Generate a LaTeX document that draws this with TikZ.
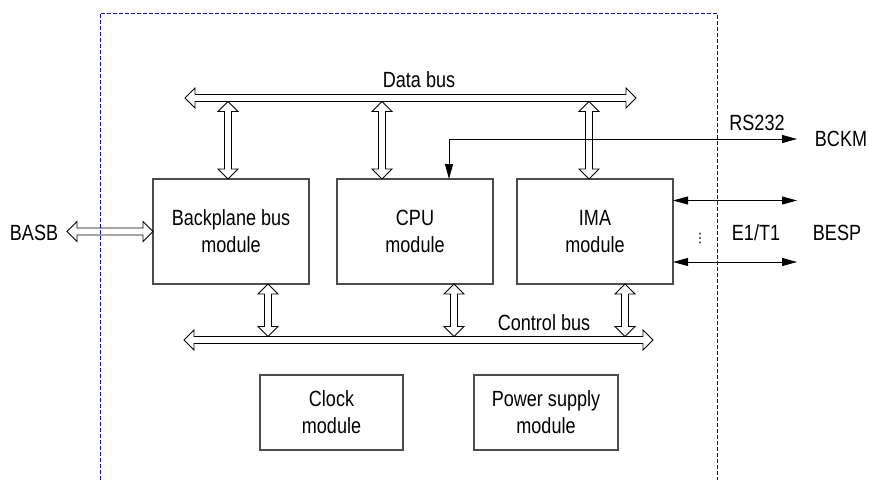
\documentclass[tikz,border=0pt]{standalone}
\usepackage{fontspec}
\setmainfont{Liberation Sans}[FakeStretch=0.82]
\newfontfamily\dotsfont{DejaVu Sans}
\usepackage{tikz}
\usetikzlibrary{positioning, arrows.meta, calc}

\begin{document}
\begin{tikzpicture}[
    x=1pt, y=-1pt,
    font=\fontsize{22}{27}\selectfont,
    module/.style={
      draw=black!70, line width=1.1pt, align=center,
      minimum width=156pt, minimum height=105pt, inner sep=0pt, outer sep=0pt
    },
    bus/.style={
      draw=black, fill=white, line width=0.9pt, line join=miter,
      to path={let \p1=(\tikztostart), \p2=(\tikztotarget),
        \n1={veclen(\x2-\x1,\y2-\y1)}, \n2={atan2(\y2-\y1,\x2-\x1)} in
        {[shift={(\p1)}, rotate=\n2]
        (0pt,0pt) -- (10pt,10pt) -- (10pt,3.5pt) -- ({\n1*1pt-10pt},3.5pt)
        -- ({\n1*1pt-10pt},10pt) -- ({\n1*1pt},0pt) -- ({\n1*1pt-10pt},-10pt)
        -- ({\n1*1pt-10pt},-3.5pt) -- (10pt,-3.5pt) -- (10pt,-10pt) -- cycle}}
    },
    sig/.style={
      draw=black, line width=0.9pt,
      {Triangle[length=15pt,width=8pt]}-{Triangle[length=15pt,width=8pt]}
    },
    lbl/.style={anchor=base, inner sep=0pt},
    frame/.style={draw=blue, line width=0.9pt, dash pattern=on 4pt off 2pt},
  ]
    \useasboundingbox (0,0) rectangle (869,480);

    % modules
    \node[module] (bp) at (231,231.5) {Backplane bus\\module};
    \node[module, right=28pt of bp] (cpu) {CPU\\module};
    \node[module, right=24pt of cpu] (ima) {IMA\\module};
    \node[module, minimum width=143pt, minimum height=75pt] (clk) at (331.5,412.5) {Clock\\module};
    \node[module, minimum width=144pt, minimum height=75pt] (pwr) at (546,412.5) {Power supply\\module};

    % labels
    \node[lbl] (dbus) at (419,87) {Data bus};
    \node[lbl] (cbus) at (544,330) {Control bus};
    \node[lbl] (rs) at (757,130) {RS232};
    \node[lbl] (bckm) at (841,146) {BCKM};
    \node[lbl] (e1) at (756,240) {E1/T1};
    \node[lbl] (besp) at (837,240) {BESP};
    \node[lbl] (basb) at (34,240) {BASB};
    \node[font=\dotsfont\fontsize{13}{13}\selectfont, inner sep=0pt] (dots) at (700,238) {⋮};

    % bus ends and taps
    \coordinate (dbl) at (185,98);
    \coordinate (dbr) at (636,98);
    \coordinate (cbl) at (184,340);
    \coordinate (cbr) at (653,340);
    \coordinate (d1) at (228,101.5);
    \coordinate (d2) at (382,101.5);
    \coordinate (d3) at (589,101.5);
    \coordinate (c1) at (268,336.5);
    \coordinate (c2) at (454,336.5);
    \coordinate (c3) at (625,336.5);
    \coordinate (basbin) at (67,231.5);
    \coordinate (bckmin) at (797,139);
    \coordinate (e1a) at (797,200.5);
    \coordinate (e1b) at (797,262);

    \draw[bus] (dbl) to (dbr);
    \draw[bus] (cbl) to (cbr);
    \draw[bus] (d1) to (d1 |- bp.north);
    \draw[bus] (d2) to (d2 |- cpu.north);
    \draw[bus] (d3) to (d3 |- ima.north);
    \draw[bus] (c1 |- bp.south) to (c1);
    \draw[bus] (c2 |- cpu.south) to (c2);
    \draw[bus] (c3 |- ima.south) to (c3);
    \draw[bus] (basbin) to (bp.west);

    \draw[sig] ([xshift=34pt]cpu.north) |- (bckmin);
    \draw[sig] (ima.east |- e1a) -- (e1a);
    \draw[sig] (ima.east |- e1b) -- (e1b);

    % board outline
    \draw[frame] (100,480) -- (100,13) -- (717,13) -- (717,480);
  \end{tikzpicture}
\end{document}
